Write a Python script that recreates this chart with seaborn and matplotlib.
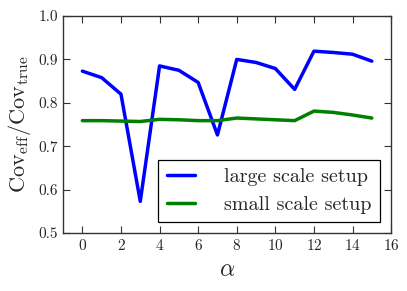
import numpy as np
import pandas as pd
import matplotlib
matplotlib.use("Agg")
import matplotlib.pyplot as plt
import seaborn as sns

# Data
alpha = list(range(16))
large_scale = [0.873, 0.858, 0.820, 0.573, 0.885, 0.875, 0.847, 0.726,
               0.900, 0.893, 0.879, 0.831, 0.919, 0.916, 0.912, 0.896]
small_scale = [0.759, 0.759, 0.758, 0.757, 0.762, 0.761, 0.759, 0.759,
               0.765, 0.763, 0.761, 0.759, 0.781, 0.778, 0.772, 0.765]
series_names = ["large scale setup", "small scale setup"]
colors = ["#0000ff", "#007f00"]

df = pd.DataFrame({
    "alpha": alpha * 2,
    "ratio": large_scale + small_scale,
    "setup": [series_names[0]] * len(alpha) + [series_names[1]] * len(alpha),
})

sns.set_style("ticks")
plt.rcParams["font.family"] = "serif"
plt.rcParams["font.serif"] = ["cmr10", "DejaVu Serif"]
plt.rcParams["mathtext.fontset"] = "cm"
plt.rcParams["axes.formatter.use_mathtext"] = True
plt.rcParams["xtick.direction"] = "in"
plt.rcParams["ytick.direction"] = "in"

fig = plt.figure(figsize=(4.07, 2.91), dpi=100)
ax = fig.add_axes([0.155, 0.199, 0.806, 0.746])

sns.lineplot(data=df, x="alpha", y="ratio", hue="setup",
             palette=colors, linewidth=2.5, ax=ax)

ax.set_xlim(-1, 16)
ax.set_ylim(0.5, 1.0)
ax.set_xticks(range(0, 17, 2))
ax.set_yticks(np.arange(0.5, 1.01, 0.1))
ax.set_yticklabels(["0.5", "0.6", "0.7", "0.8", "0.9", "1.0"])
ax.tick_params(labelsize=11, top=True, right=True, length=5, width=0.8, color="#333333")
for s in ax.spines.values():
    s.set_color("#333333")
    s.set_linewidth(1.0)

ax.set_xlabel(r"$\alpha$", fontsize=17)
ax.set_ylabel(r"$\mathrm{Cov}_{\mathrm{eff}}/\mathrm{Cov}_{\mathrm{true}}$", fontsize=16, labelpad=4)

leg = ax.legend(loc="lower right", fontsize=14.5, fancybox=False, frameon=True,
                edgecolor="black", framealpha=1, handlelength=1.4, handletextpad=1.45,
                borderpad=0.42, labelspacing=0.45, borderaxespad=0.55)
leg.get_frame().set_linewidth(0.9)
for line in leg.get_lines():
    line.set_linewidth(2.5)

fig.savefig("out.png", dpi=100)
